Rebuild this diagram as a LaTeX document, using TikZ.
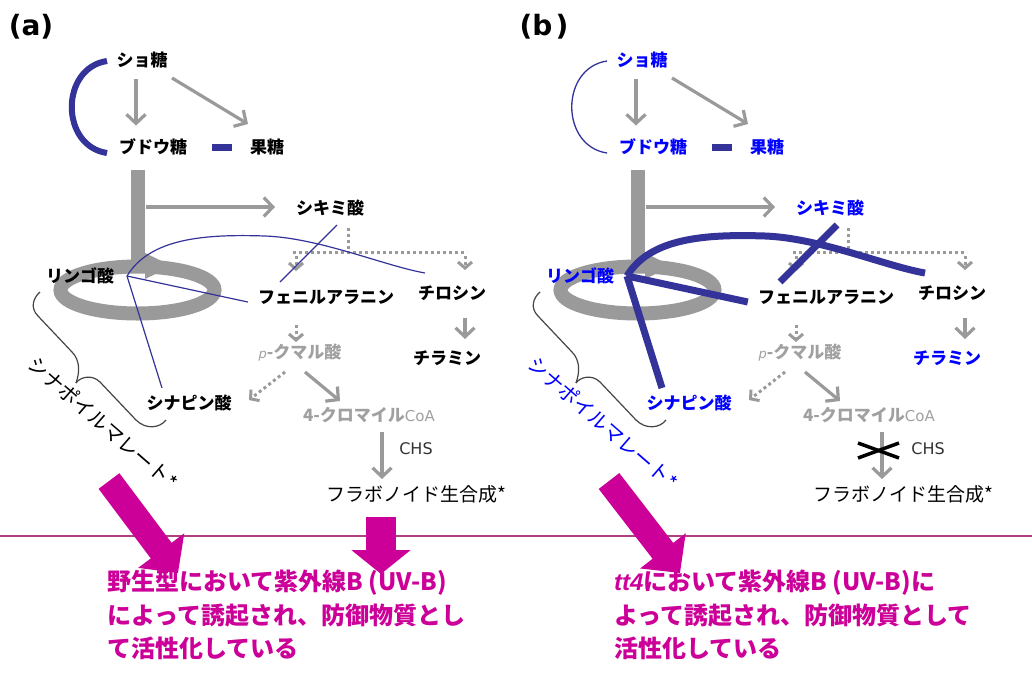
\documentclass[tikz,border=0pt]{standalone}
\usepackage{fontspec}
\setmainfont{Liberation Sans}
\newfontfamily\jp{Noto Sans CJK JP}
\newfontfamily\dv{DejaVu Sans}
\newfontfamily\lat{Liberation Sans}
\usetikzlibrary{arrows.meta,calc}
\definecolor{gline}{HTML}{9A9A9A}
\definecolor{gtext}{HTML}{A0A0A0}
\definecolor{navy}{HTML}{333399}
\definecolor{vblue}{HTML}{0000FF}
\definecolor{mag}{HTML}{CC0099}
\definecolor{rulecol}{HTML}{B04080}
\definecolor{brk}{HTML}{454545}
\tikzset{
  lbl/.style={font=\jp\bfseries\fontsize{17}{19}\selectfont, inner sep=1pt},
  glbl/.style={font=\jp\bfseries\fontsize{17}{19}\selectfont, inner sep=1pt, text=gtext},
  thinlbl/.style={font=\jp\fontsize{20}{22}\selectfont, inner sep=1pt},
  garrow/.style={draw=gline, line width=3.2pt, -{Straight Barb[length=9pt,width=19pt]}},
  gdot/.style={draw=gline, line width=3pt, dash pattern=on 3pt off 3pt},
  gdotarrow/.style={gdot, -{Straight Barb[length=6pt,width=14pt]}},
  bigarrow/.style={draw=mag, line width=26pt, -{Triangle[length=28pt,width=56pt]}},
  mtext/.style={font=\jp\bfseries\fontsize{24}{28}\selectfont, text=mag, inner sep=0pt, anchor=west},
  plabel/.style={font=\dv\bfseries\fontsize{28}{30}\selectfont, inner sep=0pt},
  bracket/.style={draw=brk, line width=1.2pt},
  chslbl/.style={font=\dv\fontsize{16}{18}\selectfont, text=black!80, inner sep=1pt},
  flavlbl/.style={font=\jp\fontsize{19}{21}\selectfont, inner sep=1pt},
}
% #1 x shift, #2 name prefix, #3 highlight text colour, #4 arc width, #5 link width
\newcommand\mypanel[5]{%
\begin{scope}[shift={(#1,0)}, name prefix=#2-]
  % malate ring and carbon flow bar
  \draw[gline, line width=14pt] (137.5,290) ellipse [x radius=77, y radius=23.5];
  \draw[gline, line width=14pt] (137.5,170) -- (137.5,270);
  \fill[gline] (145,253) -- (172,266) -- (145,279) -- cycle;
  % labels
  \node[lbl,text=#3] (suc) at (142,60) {ショ糖};
  \node[lbl,text=#3] (glu) at (153,147) {ブドウ糖};
  \node[lbl,text=#3] (fru) at (267,147) {果糖};
  \node[lbl,text=#3] (shik) at (330,208) {シキミ酸};
  \node[lbl,text=#3] (mal) at (80,276) {リンゴ酸};
  \node[lbl] (phe) at (326,297) {フェニルアラニン};
  \node[lbl] (tyr) at (452,293) {チロシン};
  \node[lbl,text=#3] (tyra) at (447,358) {チラミン};
  \node[glbl] (cou) at (300,353) {{\dv\mdseries\itshape\fontsize{13}{15}\selectfont p}-クマル酸};
  \node[lbl,text=#3] (sin) at (189,403) {シナピン酸};
  \node[glbl] (coa) at (369,415) {4-クロマイル{\dv\mdseries\fontsize{15}{17}\selectfont CoA}};
  \node[thinlbl,text=#3,rotate=-41] (smal) at (103,423) {シナポイルマレート*};
  % grey arrows
  \draw[garrow] ([xshift=-6pt,yshift=-10pt]suc.south) -- ([xshift=-17pt,yshift=12pt]glu.north);
  \draw[garrow] ($(suc.center)+(30,18)$) -- ($(fru.center)+(-19,-23)$);
  \coordinate (barj) at (146,207);
  \draw[garrow] (barj) -- ($(shik.center)+(-55,-1)$);
  \coordinate (br) at (348,252);
  \draw[gdot] ($(shik.center)+(18,20)$) -- (br);
  \draw[gdot] (293,252) -- (467,252);
  \draw[gdotarrow] (296,256) -- ($(phe.center)+(-30,-26)$);
  \draw[gdotarrow] (465,256) -- ($(tyr.center)+(13,-23)$);
  \draw[gdotarrow] ($(phe.center)+(-30,28)$) -- ($(cou.center)+(-4,-11)$);
  \draw[garrow] ($(tyr.center)+(13,25)$) -- ($(tyra.center)+(18,-19)$);
  \draw[gdotarrow] ($(cou.center)+(-15,19)$) -- ($(sin.center)+(60,-3)$);
  \draw[garrow] ($(cou.center)+(5,19)$) -- ($(coa.center)+(-29,-14)$);
  \coordinate (chsx) at ($(coa.center)+(13,0)$);
  \draw[garrow, shorten <=8pt, shorten >=5pt] (chsx |- coa.south) -- (chsx |- flav.north);
  % sinapoyl malate bracket
  \draw[bracket] ($(mal.center)+(-40,16)$) .. controls (33,298) and (30,308) .. (38,316) -- (72,352)
     .. controls (80,360) and (80,372) .. (76,383);
  \draw[bracket] (76,383) .. controls (80,377) and (92,374) .. (100,382) -- (136,420)
     .. controls (146,430) and (160,428) .. ($(sin.center)+(-23,17)$);
  % blue lines (metabolite levels)
  \draw[navy, line width=#4] ([shift={(-35,1)}]suc.center) .. controls +(-47,7) and +(-47,-7) .. ([shift={(-46,6)}]glu.center);
  \coordinate (dashc) at ($(glu.east)!0.5!(fru.west)+(3,0)$);
  \draw[navy, line width=7pt] ([xshift=-10pt]dashc) -- ([xshift=10pt]dashc);
  \coordinate (hub) at (127,276);
  \draw[navy, line width=#5] (hub) -- ($(phe.west)+(-9,5)$);
  \draw[navy, line width=#5] (hub) -- ($(sin.center)+(-27,-15)$);
  \draw[navy, line width=#5] (hub) .. controls (150,238) and (205,234) .. (265,236)
     .. controls (320,238) and (385,266) .. ($(tyr.center)+(-27,-20)$);
  \draw[navy, line width=#5] ($(shik.center)+(7,17)$) -- ($(phe.center)+(-46,-15)$);
\end{scope}}

\begin{document}
\begin{tikzpicture}[x=1pt,y=-1pt]
  \fill[white] (0,0) rectangle (1032,675);
  \useasboundingbox (0,0) rectangle (1032,675);
  % panel labels
  \node[plabel] (pa) at (31,27) {(a)};
  \node[plabel] (pb) at (544,27) {(b\hspace{3pt})};
  % CHS and flavonoid labels
  \node[chslbl] (a-chs) at (416,449) {CHS};
  \node[flavlbl] (a-flav) at (416,494) {フラボノイド生合成*};
  \node[chslbl] (b-chs) at (928,449) {CHS};
  \node[flavlbl] (b-flav) at (903,494) {フラボノイド生合成*};
  \mypanel{0}{a}{black}{6pt}{1.2pt}
  \mypanel{500}{b}{vblue}{1.3pt}{7pt}
  % CHS knocked out in tt4
  \draw[black, line width=3.5pt] (858,443) -- (899,458);
  \draw[black, line width=3.5pt] (858,458) -- (899,443);
  % separator
  \draw[rulecol, line width=2pt] (0,536) -- (1032,536);
  % magenta arrows
  \coordinate (a-m1s) at (109,481);
  \coordinate (a-m1e) at (178,573);
  \coordinate (a-m2s) at (381,517);
  \coordinate (a-m2e) at (381,574);
  \coordinate (b-m1s) at (609,481);
  \coordinate (b-m1e) at (680,573);
  \draw[bigarrow] (a-m1s) -- (a-m1e);
  \draw[bigarrow, line width=30pt, -{Triangle[length=24pt,width=58pt]}] (a-m2s) -- (a-m2e);
  \draw[bigarrow] (b-m1s) -- (b-m1e);
  % magenta texts
  \node[mtext] (a-t1) at (107,583) {野生型において紫外線B (UV-B)};
  \node[mtext] (a-t2) at (107,616) {によって誘起され、防御物質とし};
  \node[mtext] (a-t3) at (107,648) {て活性化している};
  \node[mtext] (b-t1) at (614,583) {{\lat\itshape tt4}において紫外線B (UV-B)に};
  \node[mtext] (b-t2) at (614,616) {よって誘起され、防御物質として};
  \node[mtext] (b-t3) at (614,648) {活性化している};
\end{tikzpicture}
\end{document}
